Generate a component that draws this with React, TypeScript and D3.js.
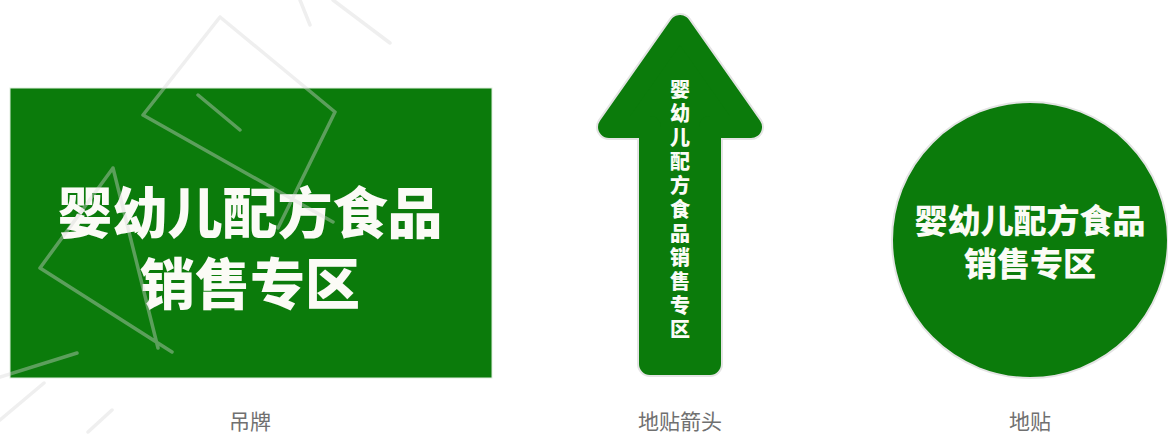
import { line, path, scaleOrdinal } from "d3";

const width = 1168;
const height = 435;

// data
const captions = ["吊牌", "地贴箭头", "地贴"];
const centers = [250, 680, 1030];
const titleLines = ["婴幼儿配方食品", "销售专区"];
const arrowText = "婴幼儿配方食品销售专区";
const green = "#0b7b0b";

// watermark strokes (background decoration)
const watermark: [number, number][][] = [
  [[220, 17], [143, 115]],
  [[143, 115], [333, 222]],
  [[220, 17], [335, 112]],
  [[335, 112], [278, 228]],
  [[198, 95], [240, 130]],
  [[113, 168], [158, 348]],
  [[40, 268], [113, 168]],
  [[40, 268], [172, 352]],
  [[300, 0], [310, 25]],
  [[333, 0], [390, 43]],
  [[0, 377], [77, 353]],
  [[0, 420], [44, 383]],
  [[88, 432], [112, 410]],
];

export default function App() {
  const x = scaleOrdinal<number, number>().domain([0, 1, 2]).range(centers);
  const font = "'Noto Sans CJK SC', 'Noto Sans', sans-serif";

  // arrow outline
  const cx = x(1);
  const arrowPts: [number, number][] = [
    [cx, 26],
    [cx + 71, 127],
    [cx + 30, 127],
    [cx + 30, 364],
    [cx - 30, 364],
    [cx - 30, 127],
    [cx - 71, 127],
  ];
  const arrowPath = line()(arrowPts) + "Z";

  const wm = path();
  watermark.forEach(([a, b]) => {
    wm.moveTo(a[0], a[1]);
    wm.lineTo(b[0], b[1]);
  });

  return (
    <svg width={width} height={height} style={{ position: "absolute", left: 0, top: 0 }}>
      <rect width={width} height={height} fill="#fff" />

      {/* hanging sign */}
      <rect x={10} y={88} width={482} height={290} fill={green} stroke="#dfeedd" strokeWidth={1} />
      <text
        textAnchor="middle"
        fill="#fbfbf6"
        fontFamily={font}
        fontWeight={900}
        fontSize={55}
      >
        {titleLines.map((t, i) => (
          <tspan key={t} x={x(0)} y={233 + i * 71}>
            {t}
          </tspan>
        ))}
      </text>

      {/* floor arrow */}
      <path d={arrowPath} fill="none" stroke="#e4e4e4" strokeWidth={26} strokeLinejoin="round" />
      <path d={arrowPath} fill={green} stroke={green} strokeWidth={22} strokeLinejoin="round" />
      <text
        x={cx}
        y={79}
        fill="#fbfbf6"
        fontFamily={font}
        fontWeight={900}
        fontSize={20}
        letterSpacing={4}
        style={{ writingMode: "vertical-rl", textOrientation: "upright" }}
      >
        {arrowText}
      </text>

      {/* floor sticker */}
      <circle cx={x(2)} cy={240} r={138} fill={green} stroke="#e4e4e4" strokeWidth={2} />
      <text
        textAnchor="middle"
        fill="#fbfbf6"
        fontFamily={font}
        fontWeight={900}
        fontSize={33}
      >
        {titleLines.map((t, i) => (
          <tspan key={t} x={x(2)} y={233 + i * 43}>
            {t}
          </tspan>
        ))}
      </text>

      {captions.map((c, i) => (
        <text
          key={c}
          x={x(i)}
          y={429}
          textAnchor="middle"
          fill="#707070"
          fontFamily={font}
          fontSize={21}
        >
          {c}
        </text>
      ))}

      <path d={wm.toString()} stroke="#d8d8d8" strokeOpacity={0.4} strokeWidth={3.5} fill="none" strokeLinecap="round" />
    </svg>
  );
}
